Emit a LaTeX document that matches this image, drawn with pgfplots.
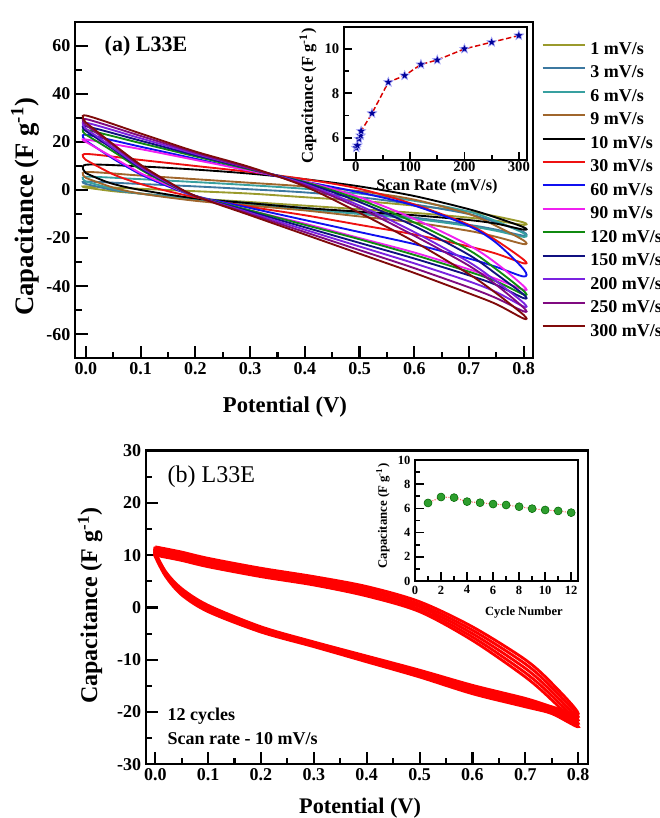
\documentclass[border=0pt]{standalone}
\usepackage{fontspec}
\setmainfont{Liberation Serif}
\usepackage{pgfplots}
\pgfplotsset{compat=1.18}

% filled five-pointed star
\pgfdeclareplotmark{fstar}{%
  \pgfpathmoveto{\pgfpointpolar{90}{\pgfplotmarksize}}%
  \pgfpathlineto{\pgfpointpolar{126}{0.42\pgfplotmarksize}}%
  \pgfpathlineto{\pgfpointpolar{162}{\pgfplotmarksize}}%
  \pgfpathlineto{\pgfpointpolar{198}{0.42\pgfplotmarksize}}%
  \pgfpathlineto{\pgfpointpolar{234}{\pgfplotmarksize}}%
  \pgfpathlineto{\pgfpointpolar{270}{0.42\pgfplotmarksize}}%
  \pgfpathlineto{\pgfpointpolar{306}{\pgfplotmarksize}}%
  \pgfpathlineto{\pgfpointpolar{342}{0.42\pgfplotmarksize}}%
  \pgfpathlineto{\pgfpointpolar{18}{\pgfplotmarksize}}%
  \pgfpathlineto{\pgfpointpolar{54}{0.42\pgfplotmarksize}}%
  \pgfpathclose
  \pgfusepathqfillstroke}

\definecolor{c1}{HTML}{9A9A2C}
\definecolor{c3}{HTML}{3C78A0}
\definecolor{c6}{HTML}{38A0A0}
\definecolor{c9}{HTML}{A0662C}
\definecolor{c10}{HTML}{000000}
\definecolor{c30}{HTML}{EE1111}
\definecolor{c60}{HTML}{1010F0}
\definecolor{c90}{HTML}{F020F0}
\definecolor{c120}{HTML}{108A10}
\definecolor{c150}{HTML}{101080}
\definecolor{c200}{HTML}{7A22E0}
\definecolor{c250}{HTML}{800A80}
\definecolor{c300}{HTML}{800A0A}
\definecolor{ballgreen}{HTML}{2E9E2E}

\pgfplotsset{
  cvframe/.style={
    scale only axis, anchor=north west,
    xtick pos=bottom, ytick pos=left, tick align=inside,
    axis line style={line width=1.8pt},
    tick style={black, line width=1.6pt},
    /pgf/number format/assume math mode=true,
  },
}

\begin{document}
\begin{tikzpicture}
\path[use as bounding box] (0,0) rectangle (495pt,-613.5pt);

% ---------------- (a) CV curves at different scan rates ----------------
\begin{axis}[cvframe,
  at={(56.25pt,-16.3pt)}, width=343.5pt, height=252.4pt,
  xmin=-0.02, xmax=0.817, ymin=-70, ymax=70,
  xtick={0,0.1,0.2,0.3,0.4,0.5,0.6,0.7,0.8},
  ytick={-60,-40,-20,0,20,40,60},
  minor x tick num=1, minor y tick num=1,
  major tick length=9.5pt, minor tick length=5pt,
  xticklabel style={/pgf/number format/.cd, fixed, fixed zerofill, precision=1},
  ticklabel style={font=\fontsize{13.5pt}{15pt}\selectfont\bfseries},
  xlabel={Potential (V)},
  ylabel={Capacitance (F g\textsuperscript{-1})},
  xlabel style={font=\fontsize{17pt}{19pt}\selectfont\bfseries,
    at={(rel axis cs:0.4585,0)}, anchor=center, yshift=-36.6pt},
  ylabel style={font=\fontsize{20pt}{22pt}\selectfont\bfseries,
    at={(rel axis cs:-0.109,0.45)}, anchor=center},
  legend cell align=left,
  legend image code/.code={\draw[#1, line width=1.5pt] (0pt,4.3pt) -- (31.5pt,4.3pt);},
  legend style={at={(rel axis cs:1,1)}, anchor=north west, xshift=6.5pt, yshift=-15pt,
    draw=none, fill=none, inner sep=0pt, outer sep=0pt,
    row sep=4.6pt, column sep=3.5pt,
    nodes={inner sep=0pt, text height=9.5pt, text depth=3.5pt},
    font=\fontsize{13.5pt}{16pt}\selectfont\bfseries},
  every axis plot/.append style={line width=1.4pt, smooth, tension=0.5},
]
\addplot[c1] coordinates {(0,1)(0.05,-0.5)(0.1,-1.5)(0.2,-3.5)(0.3,-5)(0.4,-6.5)(0.5,-8)(0.6,-9.5)(0.7,-11.5)(0.75,-12.8)(0.8,-14.5)
  (0.8,-13.5)(0.75,-11)(0.7,-9)(0.6,-6.5)(0.5,-4.5)(0.4,-3)(0.3,-1.5)(0.2,-0.5)(0.1,0.5)(0,1.5)(0,1)};
\addlegendentry{1 mV/s}
\addplot[c3] coordinates {(0,2.5)(0.05,0)(0.1,-1.5)(0.2,-3.5)(0.3,-5.5)(0.4,-7.5)(0.5,-9.5)(0.6,-11.5)(0.7,-14.5)(0.75,-16.5)(0.8,-19)
  (0.8,-17.5)(0.75,-13.5)(0.7,-10)(0.6,-6)(0.5,-3)(0.4,-1)(0.3,0.3)(0.2,1.5)(0.1,2.5)(0,3.5)(0,2.5)};
\addlegendentry{3 mV/s}
\addplot[c6] coordinates {(0,3.5)(0.05,0.5)(0.1,-1.5)(0.2,-4)(0.3,-6)(0.4,-8)(0.5,-10)(0.6,-12)(0.7,-15)(0.75,-17)(0.8,-19.5)
  (0.8,-18)(0.75,-13)(0.7,-9)(0.6,-4.5)(0.5,-1.5)(0.4,0.5)(0.3,2)(0.2,3.3)(0.1,4.5)(0,5.5)(0,3.5)};
\addlegendentry{6 mV/s}
\addplot[c9] coordinates {(0,5)(0.05,1)(0.1,-1.5)(0.2,-4.5)(0.3,-6.5)(0.4,-8.5)(0.5,-11)(0.6,-13.5)(0.7,-17)(0.75,-19.5)(0.8,-22.5)
  (0.8,-21)(0.75,-15)(0.7,-10)(0.6,-4)(0.5,-0.5)(0.4,1.5)(0.3,3)(0.2,4.5)(0.1,6)(0,7.5)(0,5)};
\addlegendentry{9 mV/s}
\addplot[c10] coordinates {(0,7)(0.025,4.5)(0.05,2.5)(0.1,0)(0.2,-3.5)(0.3,-5.5)(0.4,-7.5)(0.5,-9)(0.6,-10.5)(0.7,-12.5)(0.75,-14)(0.8,-16.5)
  (0.8,-15.5)(0.75,-11.5)(0.7,-8)(0.6,-2.5)(0.5,1.5)(0.4,4.5)(0.3,6.8)(0.2,8.5)(0.1,9.8)(0,10.5)(0,7)};
\addlegendentry{10 mV/s}
\addplot[c30] coordinates {(0,12.5)(0.05,6.5)(0.1,2.5)(0.15,-0.5)(0.2,-3)(0.3,-7)(0.4,-10.5)(0.5,-14.5)(0.6,-18.5)(0.7,-23.5)(0.75,-26.5)(0.8,-30.5)
  (0.8,-29)(0.75,-21)(0.7,-14.5)(0.6,-6)(0.5,0.5)(0.4,4.5)(0.3,7.5)(0.2,10)(0.1,12.5)(0,15)(0,12.5)};
\addlegendentry{30 mV/s}
\addplot[c60] coordinates {(0,20.5)(0.05,13)(0.1,6.5)(0.15,1.5)(0.2,-2.5)(0.3,-7.5)(0.4,-12.5)(0.5,-17.5)(0.6,-22.5)(0.7,-28.5)(0.75,-32)(0.8,-36)
  (0.8,-33)(0.75,-22)(0.7,-15)(0.6,-6.5)(0.5,-1)(0.4,3.5)(0.3,8)(0.2,13)(0.1,18)(0,23)(0,20.5)};
\addlegendentry{60 mV/s}
\addplot[c90] coordinates {(0,20)(0.05,13.5)(0.1,7)(0.15,2)(0.2,-2.5)(0.3,-8.5)(0.4,-14)(0.5,-20)(0.6,-26)(0.7,-33)(0.75,-37)(0.8,-41.5)
  (0.8,-40)(0.75,-30.5)(0.7,-23)(0.6,-12)(0.5,-3)(0.4,3.5)(0.3,8)(0.2,12.5)(0.1,17)(0,21)(0,20)};
\addlegendentry{90 mV/s}
\addplot[c120] coordinates {(0,23)(0.05,16)(0.1,8.5)(0.15,2.5)(0.2,-2.5)(0.3,-8.5)(0.4,-14.5)(0.5,-20.5)(0.6,-27)(0.7,-34)(0.75,-38)(0.8,-43.5)
  (0.8,-42)(0.75,-33)(0.7,-25)(0.6,-13.5)(0.5,-4)(0.4,3.3)(0.3,8.5)(0.2,14)(0.1,19.5)(0,25)(0,23)};
\addlegendentry{120 mV/s}
\addplot[c150] coordinates {(0,24.5)(0.05,17)(0.1,9)(0.15,2.8)(0.2,-2.5)(0.3,-9)(0.4,-15.5)(0.5,-22)(0.6,-28.5)(0.7,-35.5)(0.75,-39.5)(0.8,-45)
  (0.8,-43.5)(0.75,-35)(0.7,-27)(0.6,-15)(0.5,-5)(0.4,3)(0.3,8.8)(0.2,14.5)(0.1,20.5)(0,26.5)(0,24.5)};
\addlegendentry{150 mV/s}
\addplot[c200] coordinates {(0,25.5)(0.05,17.5)(0.1,9.5)(0.15,3)(0.2,-2.5)(0.3,-9.5)(0.4,-16.5)(0.5,-23.5)(0.6,-30.5)(0.7,-38)(0.75,-42.5)(0.8,-48.5)
  (0.8,-47)(0.75,-38)(0.7,-30)(0.6,-17.5)(0.5,-6.5)(0.4,2.5)(0.3,9)(0.2,15)(0.1,21.5)(0,28)(0,25.5)};
\addlegendentry{200 mV/s}
\addplot[c250] coordinates {(0,27)(0.05,18.5)(0.1,10)(0.15,3.3)(0.2,-2.5)(0.3,-10)(0.4,-17.5)(0.5,-25)(0.6,-32.5)(0.7,-40.5)(0.75,-45)(0.8,-50.5)
  (0.8,-49)(0.75,-39.5)(0.7,-31.5)(0.6,-19)(0.5,-7.5)(0.4,2)(0.3,9)(0.2,15.5)(0.1,22.5)(0,29.5)(0,27)};
\addlegendentry{250 mV/s}
\addplot[c300] coordinates {(0,28)(0.05,19)(0.1,10.5)(0.15,3.5)(0.2,-2.5)(0.3,-10.5)(0.4,-18.5)(0.5,-26.5)(0.6,-34.5)(0.7,-43)(0.75,-47.5)(0.8,-53.5)
  (0.8,-52)(0.75,-43)(0.7,-35)(0.6,-21.5)(0.5,-9.5)(0.4,1.5)(0.3,9.5)(0.2,16)(0.1,23.5)(0,31)(0,28)};
\addlegendentry{300 mV/s}
\node[anchor=west, font=\fontsize{16.5pt}{18pt}\selectfont\bfseries] at (rel axis cs:0.0546,0.9287) {(a) L33E};
\end{axis}

% inset: capacitance vs scan rate
\begin{axis}[cvframe,
  at={(258pt,-20pt)}, width=137.25pt, height=100pt,
  axis background/.style={fill=white},
  axis line style={line width=1.5pt},
  tick style={black, line width=1.3pt},
  xmin=-21.5, xmax=315, ymin=5, ymax=11,
  xtick={0,100,200,300}, ytick={6,8,10},
  minor x tick num=1, minor y tick num=1,
  major tick length=6pt, minor tick length=3.8pt,
  ticklabel style={font=\fontsize{11pt}{12pt}\selectfont\bfseries},
  xticklabel style={yshift=2pt},
  xlabel={Scan Rate (mV/s)},
  ylabel={Capacitance (F g\textsuperscript{-1})},
  xlabel style={font=\fontsize{12.2pt}{14pt}\selectfont\bfseries,
    at={(rel axis cs:0.508,0)}, anchor=center, yshift=-20pt},
  ylabel style={font=\fontsize{12.4pt}{14pt}\selectfont\bfseries,
    at={(rel axis cs:-0.197,0.48)}, anchor=center},
]
\addplot[red!85!black, line width=1.1pt, dash pattern=on 4pt off 2pt,
  mark=fstar, mark size=3.8pt,
  mark options={solid, fill=blue!60!black, draw=blue!30!white, line width=0.4pt}]
  coordinates {(1,5.55)(3,5.65)(6,5.95)(9,6.1)(10,6.3)(30,7.1)(60,8.5)(90,8.8)(120,9.3)(150,9.5)(200,10.0)(250,10.3)(300,10.6)};
\end{axis}

% ---------------- (b) twelve cycles at 10 mV/s ----------------
\begin{axis}[cvframe,
  at={(109.3pt,-338pt)}, width=331.5pt, height=235.2pt,
  xmin=-0.018, xmax=0.818, ymin=-30, ymax=30,
  xtick={0,0.1,0.2,0.3,0.4,0.5,0.6,0.7,0.8},
  ytick={-30,-20,-10,0,10,20,30},
  minor x tick num=1, minor y tick num=1,
  major tick length=9pt, minor tick length=4.8pt,
  xticklabel style={/pgf/number format/.cd, fixed, fixed zerofill, precision=1},
  ticklabel style={font=\fontsize{13.5pt}{15pt}\selectfont\bfseries},
  xlabel={Potential (V)},
  ylabel={Capacitance (F g\textsuperscript{-1})},
  xlabel style={font=\fontsize{16.7pt}{19pt}\selectfont\bfseries,
    at={(rel axis cs:0.485,0)}, anchor=center, yshift=-32.8pt},
  ylabel style={font=\fontsize{18pt}{20pt}\selectfont\bfseries,
    at={(rel axis cs:-0.126,0.505)}, anchor=center},
]
\addplot[red, no markers, line width=2.1pt, smooth, tension=0.5] coordinates {(0,11.6)(0.05,10.6)(0.1,9.4)(0.2,7.5)(0.3,5.9)(0.4,4.0)(0.5,1.1)(0.6,-3.7)(0.7,-10)(0.75,-14.5)(0.8,-20.3)
  (0.75,-19)(0.7,-17.4)(0.6,-14.9)(0.5,-12)(0.4,-9.3)(0.3,-6.6)(0.2,-3.7)(0.1,0.4)(0.05,3.6)(0.02,6.8)(0,10.6)(0,11.6)};
\addplot[red, no markers, line width=2.1pt, smooth, tension=0.5] coordinates {(0,11.2)(0.05,10.2)(0.1,9.0)(0.2,7.1)(0.3,5.5)(0.4,3.55)(0.5,0.6)(0.6,-4.35)(0.7,-10.8)(0.75,-15.3)(0.8,-20.9)
  (0.75,-19.3)(0.7,-17.8)(0.6,-15.3)(0.5,-12.3)(0.4,-9.55)(0.3,-6.8)(0.2,-3.95)(0.1,0.1)(0.05,3.3)(0.02,6.55)(0,10.4)(0,11.2)};
\addplot[red, no markers, line width=2.1pt, smooth, tension=0.5] coordinates {(0,10.8)(0.05,9.8)(0.1,8.6)(0.2,6.7)(0.3,5.1)(0.4,3.1)(0.5,0.15)(0.6,-5.0)(0.7,-11.65)(0.75,-16.1)(0.8,-21.55)
  (0.75,-19.65)(0.7,-18.2)(0.6,-15.7)(0.5,-12.65)(0.4,-9.85)(0.3,-7.05)(0.2,-4.2)(0.1,-0.2)(0.05,3.0)(0.02,6.35)(0,10.15)(0,10.8)};
\addplot[red, no markers, line width=2.1pt, smooth, tension=0.5] coordinates {(0,10.4)(0.05,9.4)(0.1,8.2)(0.2,6.3)(0.3,4.7)(0.4,2.65)(0.5,-0.35)(0.6,-5.65)(0.7,-12.5)(0.75,-16.9)(0.8,-22.2)
  (0.75,-20.0)(0.7,-18.6)(0.6,-16.1)(0.5,-13.0)(0.4,-10.1)(0.3,-7.3)(0.2,-4.45)(0.1,-0.5)(0.05,2.7)(0.02,6.1)(0,9.9)(0,10.4)};
\addplot[red, no markers, line width=2.1pt, smooth, tension=0.5] coordinates {(0,10.0)(0.05,9.0)(0.1,7.8)(0.2,5.9)(0.3,4.3)(0.4,2.2)(0.5,-0.8)(0.6,-6.3)(0.7,-13.3)(0.75,-17.7)(0.8,-22.8)
  (0.75,-20.3)(0.7,-19)(0.6,-16.5)(0.5,-13.3)(0.4,-10.4)(0.3,-7.5)(0.2,-4.7)(0.1,-0.8)(0.05,2.4)(0.02,5.9)(0,9.7)(0,10.0)};
\node[anchor=west, font=\fontsize{18pt}{20pt}\selectfont] at (rel axis cs:0.039,0.917) {(b) L33E};
\node[anchor=west, font=\fontsize{13.5pt}{15pt}\selectfont\bfseries] at (rel axis cs:0.039,0.152) {12 cycles};
\node[anchor=west, font=\fontsize{13.5pt}{15pt}\selectfont\bfseries] at (rel axis cs:0.039,0.0807) {Scan rate - 10 mV/s};
\end{axis}

% inset: capacitance vs cycle number
\begin{axis}[cvframe,
  at={(311.25pt,-345pt)}, width=122.5pt, height=90.75pt,
  axis background/.style={fill=white},
  axis line style={line width=1.5pt},
  tick style={black, line width=1.3pt},
  xmin=0, xmax=12.55, ymin=0, ymax=10,
  xtick={0,2,4,6,8,10,12}, ytick={0,2,4,6,8,10},
  minor x tick num=1, minor y tick num=1,
  major tick length=6.5pt, minor tick length=4pt,
  ticklabel style={font=\fontsize{9.4pt}{11pt}\selectfont\bfseries},
  xlabel={Cycle Number},
  ylabel={Capacitance (F g\textsuperscript{-1})},
  xlabel style={font=\fontsize{9.4pt}{11pt}\selectfont\bfseries,
    at={(rel axis cs:0.667,0)}, anchor=center, yshift=-23.25pt},
  ylabel style={font=\fontsize{9.6pt}{11pt}\selectfont\bfseries,
    at={(rel axis cs:-0.196,0.537)}, anchor=center},
]
\addplot[red!60, line width=0.8pt, densely dotted, mark=*, mark size=3pt,
  mark options={solid, fill=ballgreen, draw=green!40!black, line width=0.4pt}]
  coordinates {(1,6.45)(2,6.94)(3,6.89)(4,6.56)(5,6.47)(6,6.36)(7,6.28)(8,6.14)(9,5.98)(10,5.87)(11,5.79)(12,5.65)};
\end{axis}
\end{tikzpicture}
\end{document}
